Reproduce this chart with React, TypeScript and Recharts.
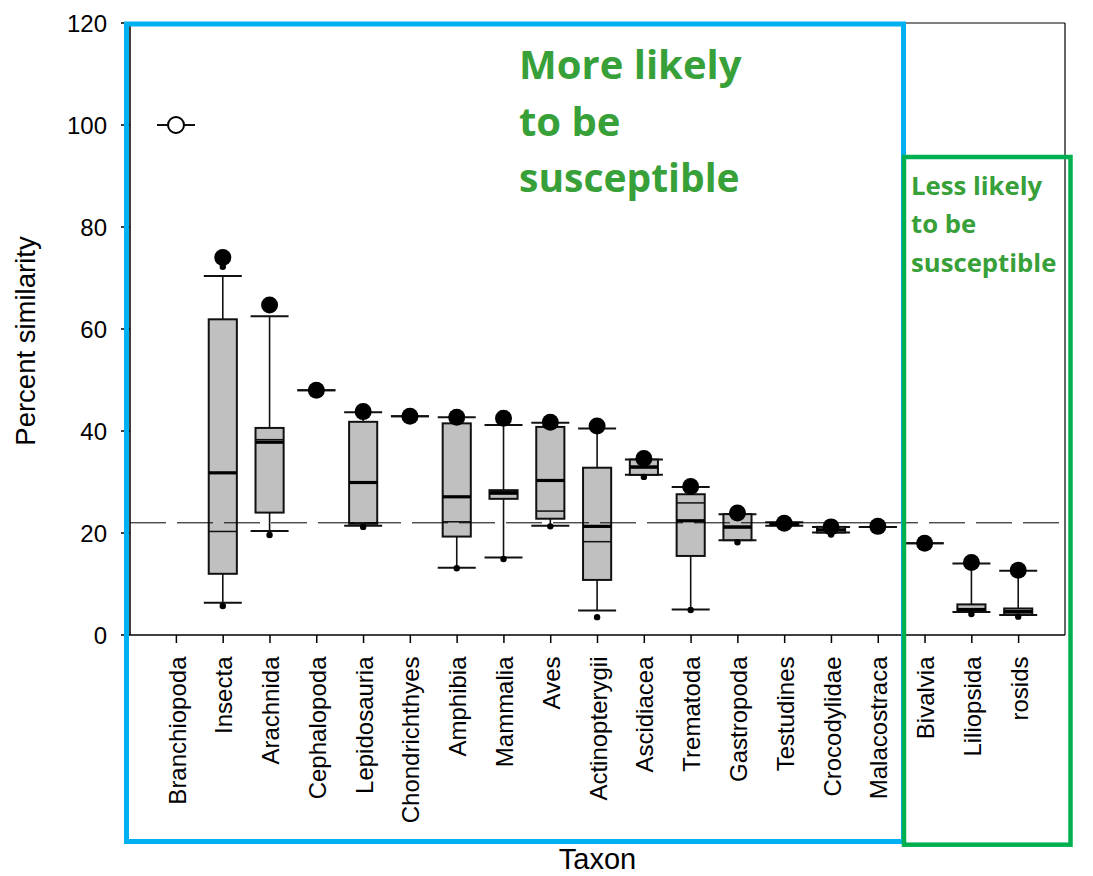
import { ComposedChart, Bar, XAxis, YAxis, ReferenceLine } from 'recharts'

const taxa = [
  'Branchiopoda', 'Insecta', 'Arachnida', 'Cephalopoda', 'Lepidosauria', 'Chondrichthyes',
  'Amphibia', 'Mammalia', 'Aves', 'Actinopterygii', 'Ascidiacea', 'Trematoda', 'Gastropoda',
  'Testudines', 'Crocodylidae', 'Malacostraca', 'Bivalvia', 'Liliopsida', 'rosids',
]

// box plot stats (percent similarity)
const upperCap = [100, 70.4, 62.5, 48.0, 43.7, 42.9, 42.7, 41.2, 41.6, 40.5, 34.4, 29.0, 23.7, 22.1, 21.2, 21.2, 18.0, 14.0, 12.6]
const q3 = [100, 61.9, 40.6, 48.0, 41.8, 42.9, 41.5, 28.4, 40.8, 32.8, 34.4, 27.6, 23.7, 22.0, 21.2, 21.2, 18.0, 6.0, 5.2]
const median = [100, 31.8, 37.8, 48.0, 29.9, 42.9, 27.1, 27.8, 30.3, 21.3, 32.9, 22.4, 21.2, 21.7, 20.6, 21.2, 18.0, 5.0, 4.6]
const mean = [100, 20.3, 38.3, 48.0, 22.0, 42.9, 22.2, 28.1, 24.3, 18.3, 33.1, 25.9, 21.0, 21.6, 20.7, 21.2, 18.0, 4.8, 4.4]
const q1 = [100, 12.0, 24.0, 48.0, 21.8, 42.9, 19.3, 26.7, 22.8, 10.8, 31.4, 15.5, 18.6, 21.5, 20.1, 21.2, 18.0, 4.6, 4.0]
const lowerCap = [100, 6.3, 20.4, 48.0, 21.4, 42.9, 13.2, 15.2, 21.4, 4.8, 31.4, 5.0, 18.6, 21.4, 20.1, 21.2, 18.0, 4.5, 3.9]
const outlierHigh: (number | null)[] = [null, 72.2, null, null, null, null, null, null, null, null, null, null, null, null, null, null, null, null, null]
const outlierLow: (number | null)[] = [null, 5.7, 19.6, null, 21.2, null, 13.1, 14.9, 21.3, 3.5, 31.0, 4.9, 18.2, null, 19.7, null, null, 4.1, 3.6]
// large marker per taxon (open for Branchiopoda)
const focal = [100, 74.0, 64.7, 48.0, 43.8, 42.9, 42.7, 42.5, 41.7, 41.0, 34.6, 29.1, 23.9, 21.9, 21.2, 21.3, 18.0, 14.2, 12.7]
const openFocal = ['Branchiopoda']

const yTicks = [0, 20, 40, 60, 80, 100, 120]
const threshold = 22

const data = taxa.map((name, i) => {
  const vals = [upperCap[i], q3[i], median[i], mean[i], q1[i], lowerCap[i], focal[i]]
  if (outlierHigh[i] !== null) vals.push(outlierHigh[i] as number)
  if (outlierLow[i] !== null) vals.push(outlierLow[i] as number)
  return {
    name,
    hi: Math.max(...vals),
    lo: Math.min(...vals),
    upperCap: upperCap[i], q3: q3[i], median: median[i], mean: mean[i],
    q1: q1[i], lowerCap: lowerCap[i], outHi: outlierHigh[i], outLo: outlierLow[i],
    focal: focal[i], open: openFocal.includes(name),
  }
})

function BoxGlyph(props: any) {
  const { x, y, width, height, payload: d } = props
  const span = d.hi - d.lo
  const ppu = span > 0 ? height / span : 0
  const py = (v: number) => y + (d.hi - v) * ppu
  const cx = x + width / 2
  const cap = width / 2
  const half = width * 0.37
  return (
    <g>
      <line x1={cx} x2={cx} y1={py(d.upperCap)} y2={py(d.q3)} stroke="#111" strokeWidth={1.6} />
      <line x1={cx} x2={cx} y1={py(d.q1)} y2={py(d.lowerCap)} stroke="#111" strokeWidth={1.6} />
      <line x1={cx - cap} x2={cx + cap} y1={py(d.upperCap)} y2={py(d.upperCap)} stroke="#111" strokeWidth={2} />
      <line x1={cx - cap} x2={cx + cap} y1={py(d.lowerCap)} y2={py(d.lowerCap)} stroke="#111" strokeWidth={2} />
      {d.q3 > d.q1 && (
        <rect x={cx - half} y={py(d.q3)} width={half * 2} height={py(d.q1) - py(d.q3)}
          fill="#c0c0c0" stroke="#111" strokeWidth={2} />
      )}
      {d.q3 > d.q1 && (
        <line x1={cx - half} x2={cx + half} y1={py(d.mean)} y2={py(d.mean)} stroke="#111" strokeWidth={1.5} />
      )}
      {d.q3 > d.q1 && (
        <line x1={cx - half} x2={cx + half} y1={py(d.median)} y2={py(d.median)} stroke="#000" strokeWidth={3.2} />
      )}
      {d.outHi !== null && <circle cx={cx} cy={py(d.outHi)} r={3.2} fill="#000" />}
      {d.outLo !== null && <circle cx={cx} cy={py(d.outLo)} r={3.2} fill="#000" />}
      <circle cx={cx} cy={py(d.focal)} r={d.open ? 8 : 8.5}
        fill={d.open ? '#fff' : '#000'} stroke="#000" strokeWidth={d.open ? 2 : 0} />
    </g>
  )
}

function TaxonTick({ x, y, payload }: any) {
  return (
    <text x={x} y={y} dx={-11.5} dy="0.38em" transform={`rotate(-90, ${x}, ${y})`}
      textAnchor="end" fontSize={24} fill="#000">
      {payload.value}
    </text>
  )
}

function YTitle({ viewBox }: any) {
  const tx = viewBox.x + 35
  const ty = viewBox.y + viewBox.height / 2 + 12
  return (
    <text x={tx} y={ty} transform={`rotate(-90, ${tx}, ${ty})`} textAnchor="middle" fontSize={27.5} fill="#000">
      Percent similarity
    </text>
  )
}

function XTitle({ viewBox }: any) {
  return (
    <text x={viewBox.x + viewBox.width / 2} y={viewBox.y + viewBox.height - 7}
      textAnchor="middle" fontSize={29} fill="#000">
      Taxon
    </text>
  )
}

const green = '#38a038'

export default function App() {
  return (
    <div style={{
      position: 'absolute', left: 0, top: 0, width: 1093, height: 876, background: '#fff',
      fontFamily: '"Liberation Sans", Arial, sans-serif',
    }}>
      <ComposedChart width={1093} height={876} data={data}
        margin={{ top: 23, right: 27, bottom: 0, left: 0 }}>
        <XAxis dataKey="name" type="category" interval={0} padding={{ left: 23, right: 23 }}
          height={241} tickSize={8} tick={<TaxonTick />}
          axisLine={{ stroke: '#000', strokeWidth: 1.5 }} tickLine={{ stroke: '#000', strokeWidth: 1.5 }}
          label={{ content: <XTitle /> }} />
        <YAxis domain={[0, 120]} ticks={yTicks} width={130} tickSize={9} tickMargin={14}
          tick={{ fontSize: 24, fill: '#000' }}
          axisLine={{ stroke: '#000', strokeWidth: 1.5 }} tickLine={{ stroke: '#000', strokeWidth: 1.5 }}
          label={{ content: <YTitle /> }} />
        <YAxis yAxisId="frame" orientation="right" domain={[0, 120]} width={1}
          tick={false} tickLine={false} axisLine={{ stroke: '#000', strokeWidth: 1.2 }} />
        <ReferenceLine y={120} stroke="#000" strokeWidth={1.2} />
        <ReferenceLine y={threshold} stroke="#000" strokeWidth={1} strokeDasharray="36 11" />
        <Bar dataKey={(d: any) => [d.lo, d.hi]} barSize={38} shape={<BoxGlyph />}
          isAnimationActive={false} />
      </ComposedChart>
      <svg width={1093} height={876} style={{ position: 'absolute', left: 0, top: 0, pointerEvents: 'none' }}>
        <rect x={126.5} y={24} width={777} height={817.5} fill="none" stroke="#00b0f0" strokeWidth={5} />
        <rect x={904} y={157} width={166.5} height={687.7} fill="none" stroke="#00b050" strokeWidth={4.5} />
        <g fill={green} fontFamily='"Open Sans", sans-serif' fontWeight={700}>
          <text x={519} y={79} fontSize={40}>More likely</text>
          <text x={519} y={135.5} fontSize={40}>to be</text>
          <text x={519} y={192} fontSize={39}>susceptible</text>
          <text x={911} y={195} fontSize={25.7}>Less likely</text>
          <text x={911} y={233} fontSize={25.7}>to be</text>
          <text x={911} y={271.5} fontSize={25.7}>susceptible</text>
        </g>
      </svg>
    </div>
  )
}
